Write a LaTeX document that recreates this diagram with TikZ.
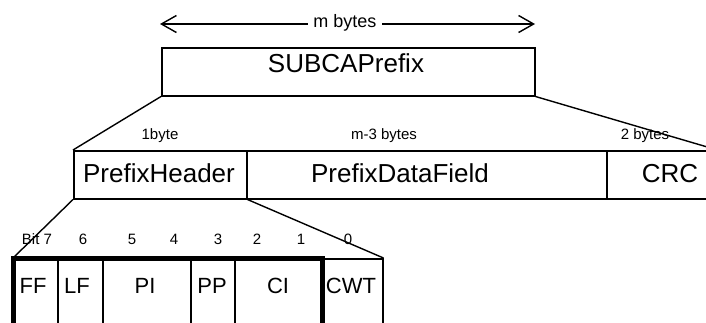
\documentclass[tikz,border=0pt]{standalone}
\usepackage{fontspec}
\setmainfont{Liberation Sans}
\usetikzlibrary{arrows.meta}

\begin{document}
\begin{tikzpicture}[x=1pt,y=-1pt,
  cell/.style={draw, line width=1.5pt, rectangle, inner sep=0pt, anchor=north west},
  big/.style={font=\fontsize{26}{30}\selectfont, anchor=base, inner sep=0pt},
  mid/.style={font=\fontsize{22}{26}\selectfont, anchor=base, inner sep=0pt},
  small/.style={font=\fontsize{15}{18}\selectfont, anchor=base, inner sep=0pt},
  dimline/.style={line width=1.4pt,
    {Straight Barb[length=15pt,width=17pt]}-{Straight Barb[length=15pt,width=17pt]}},
  boldframe/.style={line width=5pt},
  slant/.style={line width=1.4pt}]

\useasboundingbox (0,0) rectangle (706,322);
\clip (0,0) rectangle (706,322);

% whole prefix and its length
\node[cell, minimum width=373pt, minimum height=48pt] (whole) at (161,47) {};
\node[big] (wholet) at (346,72) {SUBCAPrefix};
\coordinate (al) at (160,24);
\coordinate (ar) at (535,24);
\draw[dimline] (al) -- (ar);
\node[font=\fontsize{18}{20}\selectfont, fill=white, inner xsep=5pt, inner ysep=0pt, anchor=base] (mb) at (345,27) {m bytes};

% prefix fields
\node[cell, minimum width=173pt, minimum height=48pt] (hdr) at (73,150) {};
\node[cell, minimum width=360pt, minimum height=48pt] (data) at (246,150) {};
\node[cell, minimum width=110pt, minimum height=48pt] (crc) at (606,150) {};
\node[big] (hdrt) at (159,182) {PrefixHeader};
\node[big] (datat) at (400,182) {PrefixDataField};
\node[big] (crct) at (670,182) {CRC};
\node[small] (hdrs) at (160,139) {1byte};
\node[small] (datas) at (384,139) {m-3 bytes};
\node[small] (crcs) at (645,139) {2 bytes};

\draw[slant] (whole.south west) -- (hdr.north west);
\draw[slant] (whole.south east) -- (crc.north east);

% header bits
\node[cell, minimum width=44pt, minimum height=90pt] (ff) at (13,258) {};
\node[cell, minimum width=45pt, minimum height=90pt] (lf) at (57,258) {};
\node[cell, minimum width=88pt, minimum height=90pt] (pi) at (102,258) {};
\node[cell, minimum width=44pt, minimum height=90pt] (pp) at (190,258) {};
\node[cell, minimum width=87pt, minimum height=90pt] (ci) at (234,258) {};
\node[cell, minimum width=61pt, minimum height=90pt] (cwt) at (321,258) {};
\draw[boldframe] (ff.north west) rectangle (ci.south east);

\node[mid] (fft) at (33,293) {FF};
\node[mid] (lft) at (77,293) {LF};
\node[mid] (pit) at (145,293) {PI};
\node[mid] (ppt) at (212,293) {PP};
\node[mid] (cit) at (278,293) {CI};
\node[mid] (cwtt) at (351,293) {CWT};

\node[small] (b7) at (37,244) {Bit 7};
\node[small] (b6) at (83,244) {6};
\node[small] (b5) at (132,244) {5};
\node[small] (b4) at (174,244) {4};
\node[small] (b3) at (218,244) {3};
\node[small] (b2) at (257,244) {2};
\node[small] (b1) at (301,244) {1};
\node[small] (b0) at (348,244) {0};

\draw[slant] (hdr.south west) -- (ff.north west);
\draw[slant] (hdr.south east) -- (cwt.north east);
\end{tikzpicture}
\end{document}
